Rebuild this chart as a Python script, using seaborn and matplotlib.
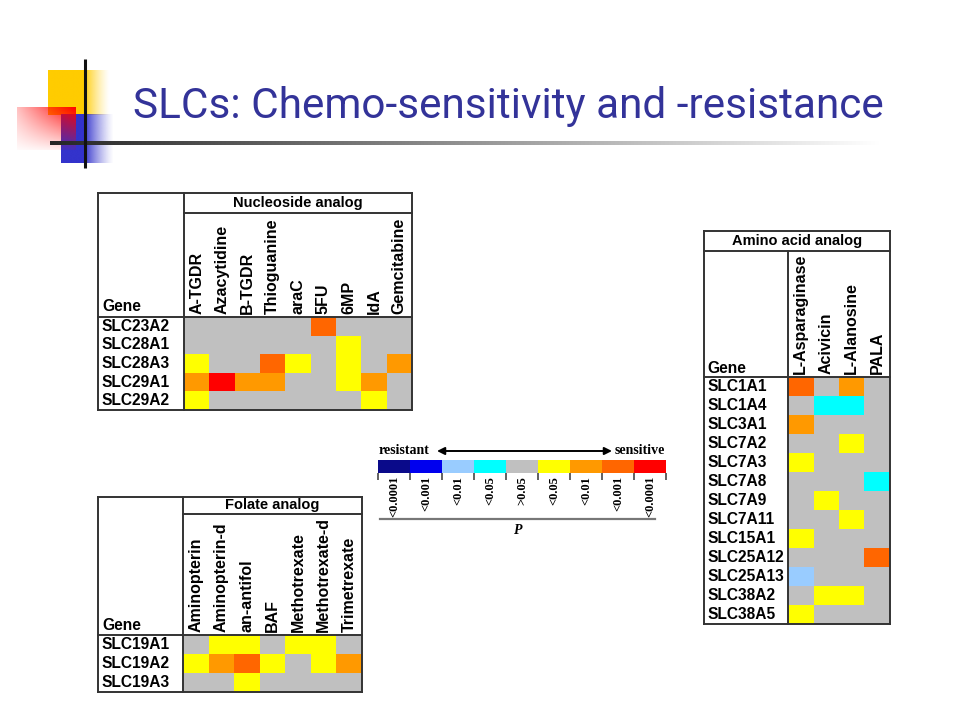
import numpy as np
import pandas as pd
import matplotlib
matplotlib.use("Agg")
import matplotlib.pyplot as plt
import seaborn as sns
from matplotlib.colors import ListedColormap, to_rgb

# ---------------- data ----------------
title = "SLCs: Chemo-sensitivity and -resistance"

p_labels = ["<0.0001", "<0.001", "<0.01", "<0.05", ">0.05", "<0.05", "<0.01", "<0.001", "<0.0001"]
levels = [-4, -3, -2, -1, 0, 1, 2, 3, 4]
level_colors = ["#0a0a8a", "#0000ee", "#99ccff", "#00ffff", "#c0c0c0",
                "#ffff00", "#ff9900", "#ff6600", "#ff0000"]

nuc_drugs = ["A-TGDR", "Azacytidine", "B-TGDR", "Thioguanine", "araC", "5FU", "6MP", "IdA", "Gemcitabine"]
nuc_genes = ["SLC23A2", "SLC28A1", "SLC28A3", "SLC29A1", "SLC29A2"]
nuc_values = [
    [0, 0, 0, 0, 0, 3, 0, 0, 0],
    [0, 0, 0, 0, 0, 0, 1, 0, 0],
    [1, 0, 0, 3, 1, 0, 1, 0, 2],
    [2, 4, 2, 2, 0, 0, 1, 2, 0],
    [1, 0, 0, 0, 0, 0, 0, 1, 0],
]

fol_drugs = ["Aminopterin", "Aminopterin-d", "an-antifol", "BAF", "Methotrexate", "Methotrexate-d", "Trimetrexate"]
fol_genes = ["SLC19A1", "SLC19A2", "SLC19A3"]
fol_values = [
    [0, 1, 1, 0, 1, 1, 0],
    [1, 2, 3, 1, 0, 1, 2],
    [0, 0, 1, 0, 0, 0, 0],
]

amino_drugs = ["L-Asparaginase", "Acivicin", "L-Alanosine", "PALA"]
amino_genes = ["SLC1A1", "SLC1A4", "SLC3A1", "SLC7A2", "SLC7A3", "SLC7A8", "SLC7A9",
               "SLC7A11", "SLC15A1", "SLC25A12", "SLC25A13", "SLC38A2", "SLC38A5"]
amino_values = [
    [3, 0, 2, 0],
    [0, -1, -1, 0],
    [2, 0, 0, 0],
    [0, 0, 1, 0],
    [1, 0, 0, 0],
    [0, 0, 0, -1],
    [0, 1, 0, 0],
    [0, 0, 1, 0],
    [1, 0, 0, 0],
    [0, 0, 0, 3],
    [-2, 0, 0, 0],
    [0, 1, 1, 0],
    [1, 0, 0, 0],
]

# ---------------- figure ----------------
W, H = 960, 720
fig = plt.figure(figsize=(9.6, 7.2), dpi=100)
fig.patch.set_facecolor("white")

SANS = "Liberation Sans"
SERIF = "Liberation Serif"
LINE = "#333333"
cmap = ListedColormap(level_colors)


def fbox(x0, y0, x1, y1):
    return [x0 / W, 1 - y1 / H, (x1 - x0) / W, (y1 - y0) / H]


def draw_heat(genes, drugs, values, box, label_x):
    ax = fig.add_axes(fbox(*box))
    df = pd.DataFrame(values, index=genes, columns=drugs)
    sns.heatmap(df, ax=ax, cmap=cmap, vmin=-4.5, vmax=4.5, cbar=False,
                linewidths=0, xticklabels=True, yticklabels=True)
    ax.xaxis.tick_top()
    ax.set_xlabel("")
    ax.set_ylabel("")
    ax.set_xticklabels(drugs, rotation=90, ha="center", va="bottom",
                       fontsize=11.5, fontweight="bold", family=SANS)
    ax.set_yticklabels(genes, rotation=0, ha="left", va="center",
                       fontsize=11.2, fontweight="bold", family=SANS)
    ax.tick_params(axis="x", length=0, pad=2.5)
    pad_px = box[0] - label_x
    ax.tick_params(axis="y", length=0, pad=pad_px * 72 / 100)
    return ax


# data regions (pixel boxes: x0, y0, x1, y1)
draw_heat(nuc_genes, nuc_drugs, nuc_values, (184, 317, 412, 410), 102)
draw_heat(fol_genes, fol_drugs, fol_values, (183, 635, 362, 692), 102)
draw_heat(amino_genes, amino_drugs, amino_values, (788, 377, 890, 624), 707)

# legend colour bar
lax = fig.add_axes(fbox(378, 460, 666, 473))
sns.heatmap(pd.DataFrame([levels], columns=p_labels), ax=lax, cmap=cmap,
            vmin=-4.5, vmax=4.5, cbar=False, xticklabels=False, yticklabels=False)
lax.set_xticks(np.arange(len(levels) + 1))
lax.set_xticklabels([])
lax.set_xticks(np.arange(len(levels)) + 0.5, minor=True)
lax.set_xticklabels(p_labels, minor=True, rotation=90, ha="center", va="top",
                    fontsize=9, fontweight="bold", family=SERIF)
lax.tick_params(axis="x", which="major", length=5, width=1.3, color="#555555")
lax.tick_params(axis="x", which="minor", length=0, pad=2)
lax.set_xlabel("")
lax.set_ylabel("")

# ---------------- overlay (lines, texts, decorations) ----------------
ov = fig.add_axes([0, 0, 1, 1], zorder=10)
ov.axis("off")


def line(x0, y0, x1, y1, color=LINE, lw=1.4):
    ov.plot([x0, x1], [y0, y1], color=color, lw=lw, solid_capstyle="projecting")


def table_frame(x0, y0, x1, y1, xdiv, yhead, ydata, header_full=False):
    line(x0, y0, x1, y0)
    line(x0, y1, x1, y1)
    line(x0, y0, x0, y1)
    line(x1, y0, x1, y1)
    if header_full:
        line(x0, yhead, x1, yhead)
        line(xdiv, yhead, xdiv, y1)
    else:
        line(xdiv, yhead, x1, yhead)
        line(xdiv, y0, xdiv, y1)
    line(x0, ydata, x1, ydata)


hdr_kw = dict(fontsize=10.5, fontweight="bold", family=SANS, ha="center", va="center")
gene_kw = dict(fontsize=11.2, fontweight="bold", family=SANS, ha="left", va="baseline")

# nucleoside table
table_frame(98, 193, 412, 410, 184, 213, 317)
ov.text((184 + 412) / 2, 203.5, "Nucleoside analog", **hdr_kw)
ov.text(102, 311, "Gene", **gene_kw)

# folate table
table_frame(98, 497, 362, 692, 183, 514, 635)
ov.text((183 + 362) / 2, 505.5, "Folate analog", **hdr_kw)
ov.text(102, 630, "Gene", **gene_kw)

# amino acid table
table_frame(704, 231, 890, 624, 788, 251, 377, header_full=True)
ov.text((704 + 890) / 2, 241.5, "Amino acid analog", **hdr_kw)
ov.text(707, 373, "Gene", **gene_kw)

# legend texts
ov.text(379, 451, "resistant", fontsize=10, fontweight="bold", family=SERIF, ha="left", va="center")
ov.text(665, 451, "sensitive", fontsize=10, fontweight="bold", family=SERIF, ha="right", va="center")
ov.annotate("", xy=(437, 451), xytext=(612, 451),
            arrowprops=dict(arrowstyle="<|-|>", color="black", lw=1.4,
                            mutation_scale=11, shrinkA=0, shrinkB=0))
line(380, 519, 655, 519, color="#777777", lw=1.6)
ov.text(518, 531, "P", fontsize=10, fontweight="bold", style="italic", family=SERIF,
        ha="center", va="center")


# decorations
def grad_rect(x0, y0, x1, y1, color, alpha_fn, n=80):
    xs = np.linspace(0, 1, n)
    ys = np.linspace(0, 1, n)
    U, V = np.meshgrid(xs, ys)
    img = np.zeros((n, n, 4))
    img[..., :3] = to_rgb(color)
    img[..., 3] = alpha_fn(U, V)
    ov.imshow(img, extent=(x0, x1, y1, y0), aspect="auto", interpolation="bilinear", zorder=1)


# yellow square + fade
grad_rect(48, 70, 86, 115, "#ffcc00", lambda u, v: np.ones_like(u))
grad_rect(86, 70, 110, 115, "#ffcc00", lambda u, v: (1 - u) ** 1.3 * 0.85)
# blue square + fade
grad_rect(61, 114, 86, 163, "#3333cc", lambda u, v: np.ones_like(u))
grad_rect(86, 114, 114, 163, "#3333cc", lambda u, v: (1 - u) ** 1.3 * 0.9)
# red gradient square (on top)
grad_rect(17, 107, 76, 150, "#ff0000",
          lambda u, v: np.clip((0.25 + 0.75 * u) * (1 - 0.92 * v), 0, 1))

# horizontal gradient rule
gl = np.linspace(0, 1, 300)
rule = np.zeros((1, 300, 4))
rule[..., 0:3] = np.clip((0.15 + 0.85 * gl)[None, :, None] * np.ones((1, 1, 3)), 0, 1)
rule[..., 3] = 1.0
ov.imshow(rule, extent=(50, 880, 144.6, 141.4), aspect="auto", interpolation="bilinear", zorder=2)
# vertical rule
ov.plot([85, 85], [59, 168], color="#111111", lw=2.2, zorder=3, solid_capstyle="butt")

# title
t = ov.text(133, 118, title, fontsize=32, color="#333399", family="Roboto",
            ha="left", va="baseline", zorder=4)
fig.canvas.draw()
w = t.get_window_extent().width
t.set_fontsize(32 * 753 / w)

ov.set_xlim(0, W)
ov.set_ylim(H, 0)

fig.savefig("out.png", dpi=100, facecolor="white")
